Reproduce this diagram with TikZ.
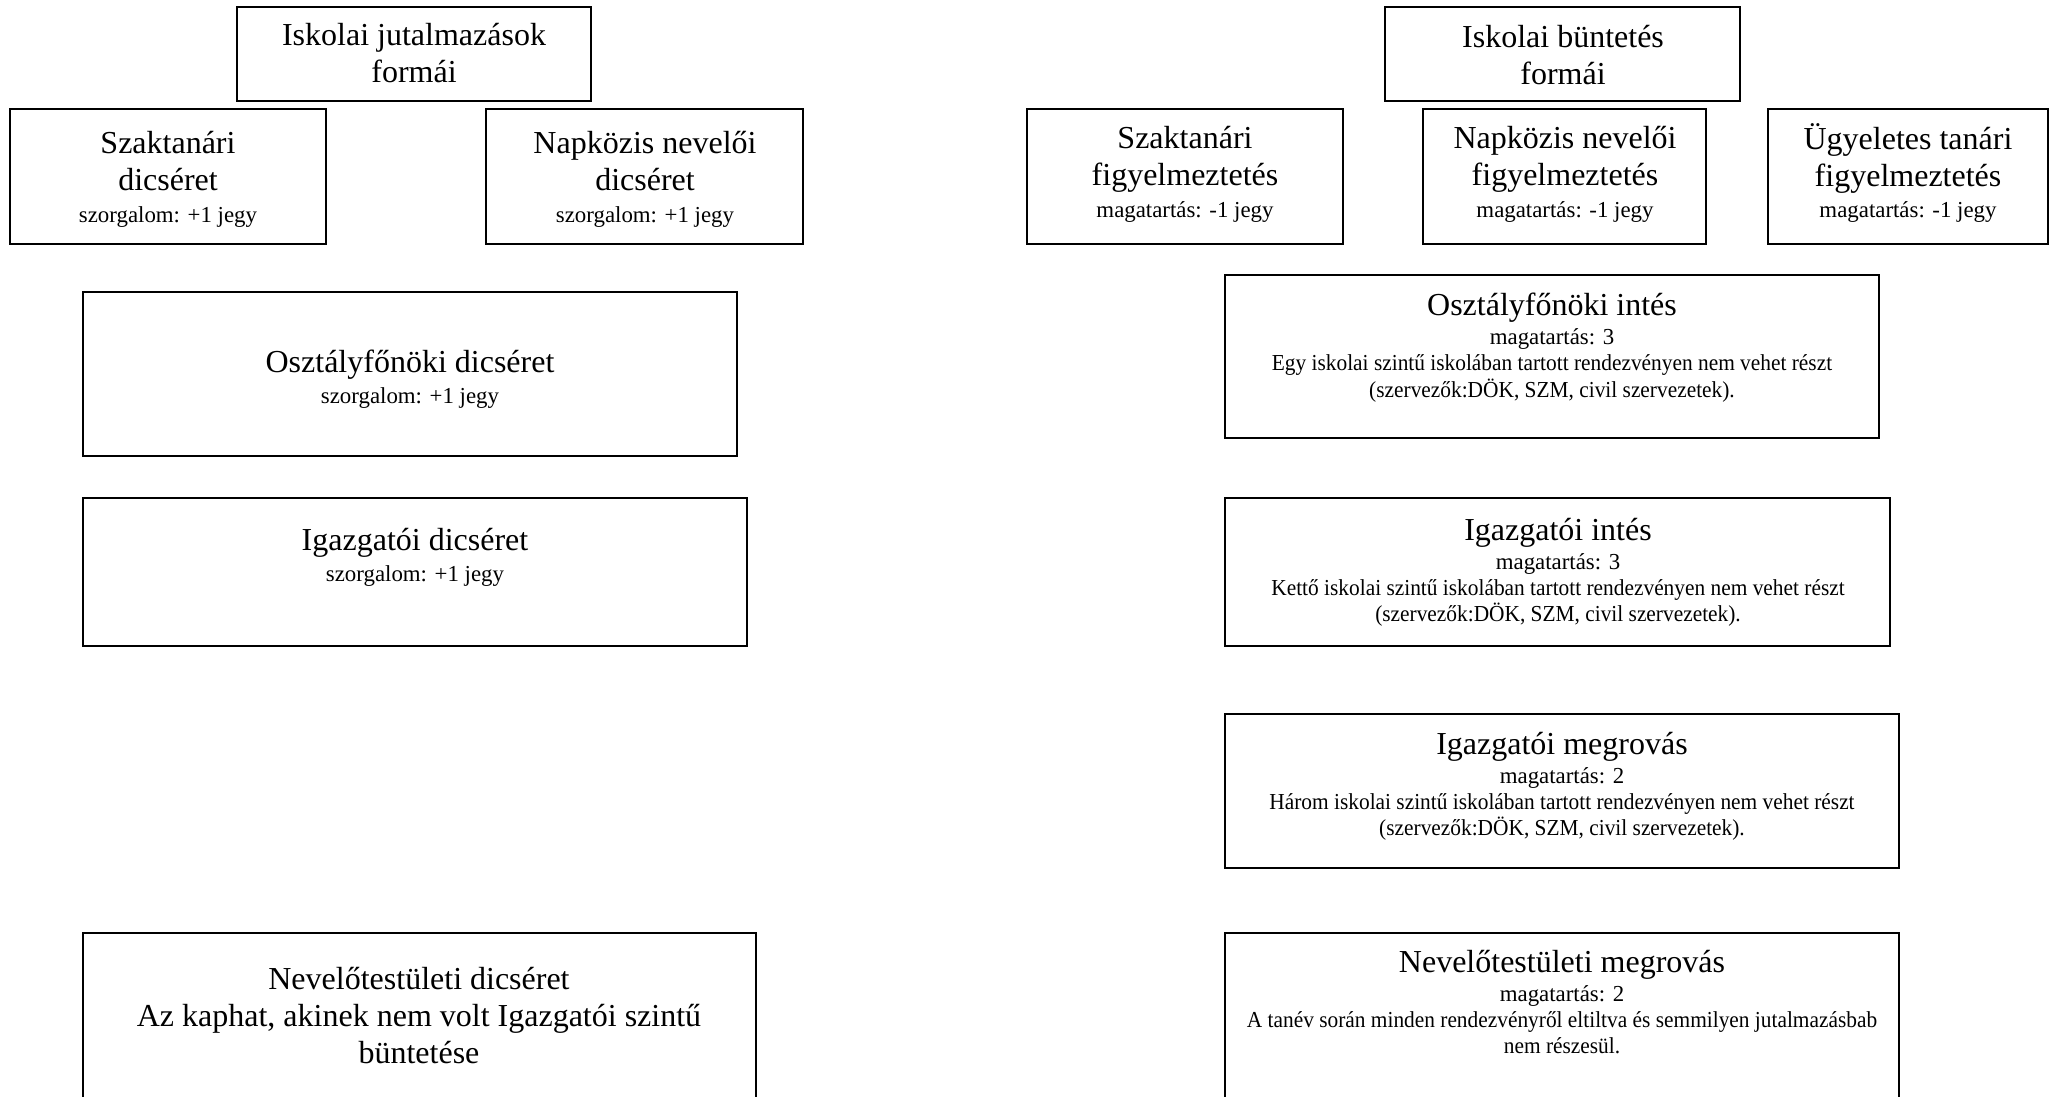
\documentclass[tikz,border=0pt]{standalone}
\usepackage{fontspec}
\setmainfont{Liberation Serif}
\newfontfamily\szuk[FakeStretch=0.935]{Liberation Serif}
\usetikzlibrary{fit}

\newcommand{\kicsi}{\fontsize{10}{11.5}\selectfont}
\newcommand{\hosszu}{\szuk\fontsize{10}{11.5}\selectfont}

\tikzset{
  doboz/.style={draw, line width=0.9pt, inner sep=0pt},
  felirat/.style={font=\fontsize{14}{16.1}\selectfont, align=center, anchor=north, inner sep=0pt},
}

\begin{document}
\begin{tikzpicture}[x=0.4375pt, y=-0.4375pt]
\useasboundingbox (0,0) rectangle (2055,1096);
\clip (0,0) rectangle (2055,1096);

% jutalmazasok
\node[doboz, fit={(237,7) (591,101)}] (J0) {};
\node[doboz, fit={(10,109) (326,244)}] (J1) {};
\node[doboz, fit={(486,109) (803,244)}] (J2) {};
\node[doboz, fit={(83,292) (737,456)}] (J3) {};
\node[doboz, fit={(83,498) (747,646)}] (J4) {};
\node[doboz, fit={(83,933) (756,1120)}] (J5) {};

\node[felirat] (J0t) at (414,23) {Iskolai jutalmazások\\formái};
\node[felirat] (J1t) at (168,131) {Szaktanári\\dicséret\\[-2.3pt]{\kicsi szorgalom: +1 jegy}};
\node[felirat] (J2t) at (645,131) {Napközis nevelői\\dicséret\\[-2.3pt]{\kicsi szorgalom: +1 jegy}};
\node[felirat] (J3t) at (410,350) {Osztályfőnöki dicséret\\[-2.8pt]{\kicsi szorgalom: +1 jegy}};
\node[felirat] (J4t) at (415,528) {Igazgatói dicséret\\[-2.8pt]{\kicsi szorgalom: +1 jegy}};
\node[felirat] (J5t) at (419,967) {Nevelőtestületi dicséret\\Az kaphat, akinek nem volt Igazgatói szintű\\büntetése};

% buntetesek
\node[doboz, fit={(1385,7) (1740,101)}] (B0) {};
\node[doboz, fit={(1027,109) (1343,244)}] (B1) {};
\node[doboz, fit={(1423,109) (1706,244)}] (B2) {};
\node[doboz, fit={(1768,109) (2048,244)}] (B3) {};
\node[doboz, fit={(1225,275) (1879,438)}] (B4) {};
\node[doboz, fit={(1225,498) (1890,646)}] (B5) {};
\node[doboz, fit={(1225,714) (1899,868)}] (B6) {};
\node[doboz, fit={(1225,933) (1899,1120)}] (B7) {};

\node[felirat] (B0t) at (1563,25) {Iskolai büntetés\\formái};
\node[felirat] (B1t) at (1185,126) {Szaktanári\\figyelmeztetés\\[-2.3pt]{\kicsi magatartás: -1 jegy}};
\node[felirat] (B2t) at (1565,126) {Napközis nevelői\\figyelmeztetés\\[-2.3pt]{\kicsi magatartás: -1 jegy}};
\node[felirat] (B3t) at (1908,123) {Ügyeletes tanári\\figyelmeztetés\\[-2.3pt]{\kicsi magatartás: -1 jegy}};
\node[felirat] (B4t) at (1552,293) {Osztályfőnöki intés\\[-3.6pt]{\kicsi magatartás: 3}\\[-4.6pt]{\hosszu Egy iskolai szintű iskolában tartott rendezvényen nem vehet részt}\\[-4.6pt]{\hosszu (szervezők:DÖK, SZM, civil szervezetek).}};
\node[felirat] (B5t) at (1558,518) {Igazgatói intés\\[-3.6pt]{\kicsi magatartás: 3}\\[-4.6pt]{\hosszu Kettő iskolai szintű iskolában tartott rendezvényen nem vehet részt}\\[-4.6pt]{\hosszu (szervezők:DÖK, SZM, civil szervezetek).}};
\node[felirat] (B6t) at (1562,732) {Igazgatói megrovás\\[-3.6pt]{\kicsi magatartás: 2}\\[-4.6pt]{\hosszu Három iskolai szintű iskolában tartott rendezvényen nem vehet részt}\\[-4.6pt]{\hosszu (szervezők:DÖK, SZM, civil szervezetek).}};
\node[felirat] (B7t) at (1562,950) {Nevelőtestületi megrovás\\[-3.6pt]{\kicsi magatartás: 2}\\[-4.6pt]{\hosszu A tanév során minden rendezvényről eltiltva és semmilyen jutalmazásbab}\\[-4.6pt]{\hosszu nem részesül.}};
\end{tikzpicture}
\end{document}
